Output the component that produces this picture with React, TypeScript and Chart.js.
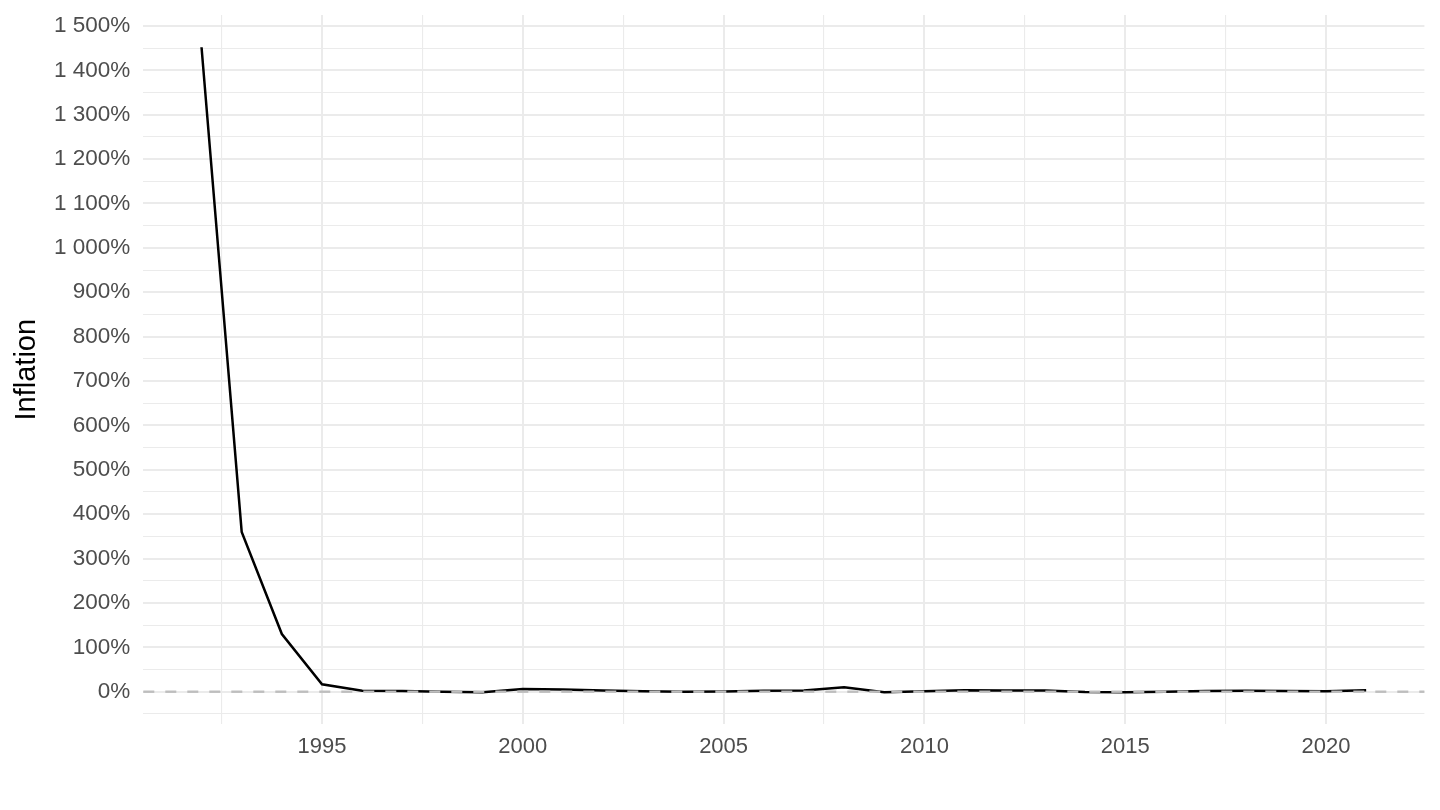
import React, { useEffect, useRef } from "react";
import { Chart, registerables } from "chart.js";

Chart.register(...registerables);

const years: number[] = [
  1992, 1993, 1994, 1995, 1996, 1997, 1998, 1999, 2000, 2001,
  2002, 2003, 2004, 2005, 2006, 2007, 2008, 2009, 2010, 2011,
  2012, 2013, 2014, 2015, 2016, 2017, 2018, 2019, 2020, 2021,
];
const inflation: number[] = [
  1452, 360, 130, 16.7, 2, 1.5, 0, -1, 6, 5,
  3, 1, 0, 0.5, 2, 3, 10, -1, 1, 3.5,
  3, 2.5, -0.5, -1, 0, 1.5, 2, 1.5, 1, 3.5,
];
const xMajorTicks: number[] = [1995, 2000, 2005, 2010, 2015, 2020];
const xMinorTicks: number[] = [1992.5, 1997.5, 2002.5, 2007.5, 2012.5, 2017.5];
const yMajorTicks: number[] = [0, 100, 200, 300, 400, 500, 600, 700, 800, 900, 1000, 1100, 1200, 1300, 1400, 1500];
const yMinorTicks: number[] = [-50, 50, 150, 250, 350, 450, 550, 650, 750, 850, 950, 1050, 1150, 1250, 1350, 1450];
const yTitle = "Inflation";

const FONT = "'Liberation Sans', Arial, Helvetica, sans-serif";

function fmtPct(v: number): string {
  const s = String(Math.round(v));
  const withSep = s.replace(/\B(?=(\d{3})+(?!\d))/g, " ");
  return withSep + "%";
}

export default function App() {
  const ref = useRef<HTMLCanvasElement | null>(null);

  useEffect(() => {
    document.body.style.margin = "0";
    const canvas = ref.current;
    if (!canvas) return;

    const xs = years.map((y) => y);
    const xSpan = xs[xs.length - 1] - xs[0];
    const xMin = xs[0] - xSpan * 0.05;
    const xMax = xs[xs.length - 1] + xSpan * 0.05;
    const yLo = Math.min(...inflation);
    const yHi = Math.max(...inflation);
    const ySpan = yHi - yLo;
    const yMin = yLo - ySpan * 0.05;
    const yMax = yHi + ySpan * 0.05;

    const zeroLine = {
      id: "zeroLine",
      afterDatasetsDraw(chart: any) {
        const { ctx, chartArea, scales } = chart;
        const y = scales.y.getPixelForValue(0);
        ctx.save();
        ctx.strokeStyle = "#bebebe";
        ctx.lineWidth = 2.4;
        ctx.setLineDash([11, 11]);
        ctx.beginPath();
        ctx.moveTo(chartArea.left, y);
        ctx.lineTo(chartArea.right, y);
        ctx.stroke();
        ctx.restore();
      },
    };

    const chart = new Chart(canvas, {
      type: "line",
      data: {
        datasets: [
          {
            data: years.map((yr, i) => ({ x: yr, y: inflation[i] })),
            borderColor: "#000000",
            borderWidth: 2.5,
            pointRadius: 0,
            tension: 0,
            fill: false,
          },
        ],
      },
      options: {
        animation: false,
        responsive: true,
        maintainAspectRatio: false,
        layout: { padding: { top: 15, right: 15.6, left: 0, bottom: 0 } },
        plugins: { legend: { display: false }, tooltip: { enabled: false } },
        scales: {
          x: {
            type: "linear",
            min: xMin,
            max: xMax,
            border: { display: false },
            grid: {
              drawTicks: false,
              color: "#ebebeb",
              lineWidth: (c: any) => (c.tick && xMajorTicks.includes(c.tick.value) ? 2 : 1.1),
            },
            afterBuildTicks: (scale: any) => {
              scale.ticks = [...xMinorTicks, ...xMajorTicks]
                .sort((a, b) => a - b)
                .map((v) => ({ value: v }));
            },
            afterFit: (scale: any) => {
              scale.height = 85.6;
              scale.paddingLeft = 0;
              scale.paddingRight = 0;
            },
            ticks: {
              autoSkip: false,
              maxRotation: 0,
              padding: 9,
              color: "#4d4d4d",
              font: { family: FONT, size: 22 },
              callback: (v: any) => (xMajorTicks.includes(Number(v)) ? String(v) : ""),
            },
          },
          y: {
            type: "linear",
            min: yMin,
            max: yMax,
            border: { display: false },
            grid: {
              drawTicks: false,
              color: "#ebebeb",
              lineWidth: (c: any) => (c.tick && yMajorTicks.includes(c.tick.value) ? 2 : 1.1),
            },
            afterBuildTicks: (scale: any) => {
              scale.ticks = [...yMinorTicks, ...yMajorTicks]
                .sort((a, b) => a - b)
                .map((v) => ({ value: v }));
            },
            afterFit: (scale: any) => {
              scale.width = 143.3;
              scale.paddingTop = 0;
              scale.paddingBottom = 0;
            },
            title: {
              display: true,
              text: yTitle,
              color: "#000000",
              font: { family: FONT, size: 29 },
              padding: { top: 10, bottom: 0 },
            },
            ticks: {
              autoSkip: false,
              padding: 13,
              color: "#4d4d4d",
              font: { family: FONT, size: 22.5 },
              callback: (v: any) => (yMajorTicks.includes(Number(v)) ? fmtPct(Number(v)) : ""),
            },
          },
        },
      },
      plugins: [zeroLine],
    });

    return () => chart.destroy();
  }, []);

  return (
    <div style={{ width: 1440, height: 810, position: "relative", background: "#ffffff" }}>
      <canvas ref={ref} />
    </div>
  );
}
